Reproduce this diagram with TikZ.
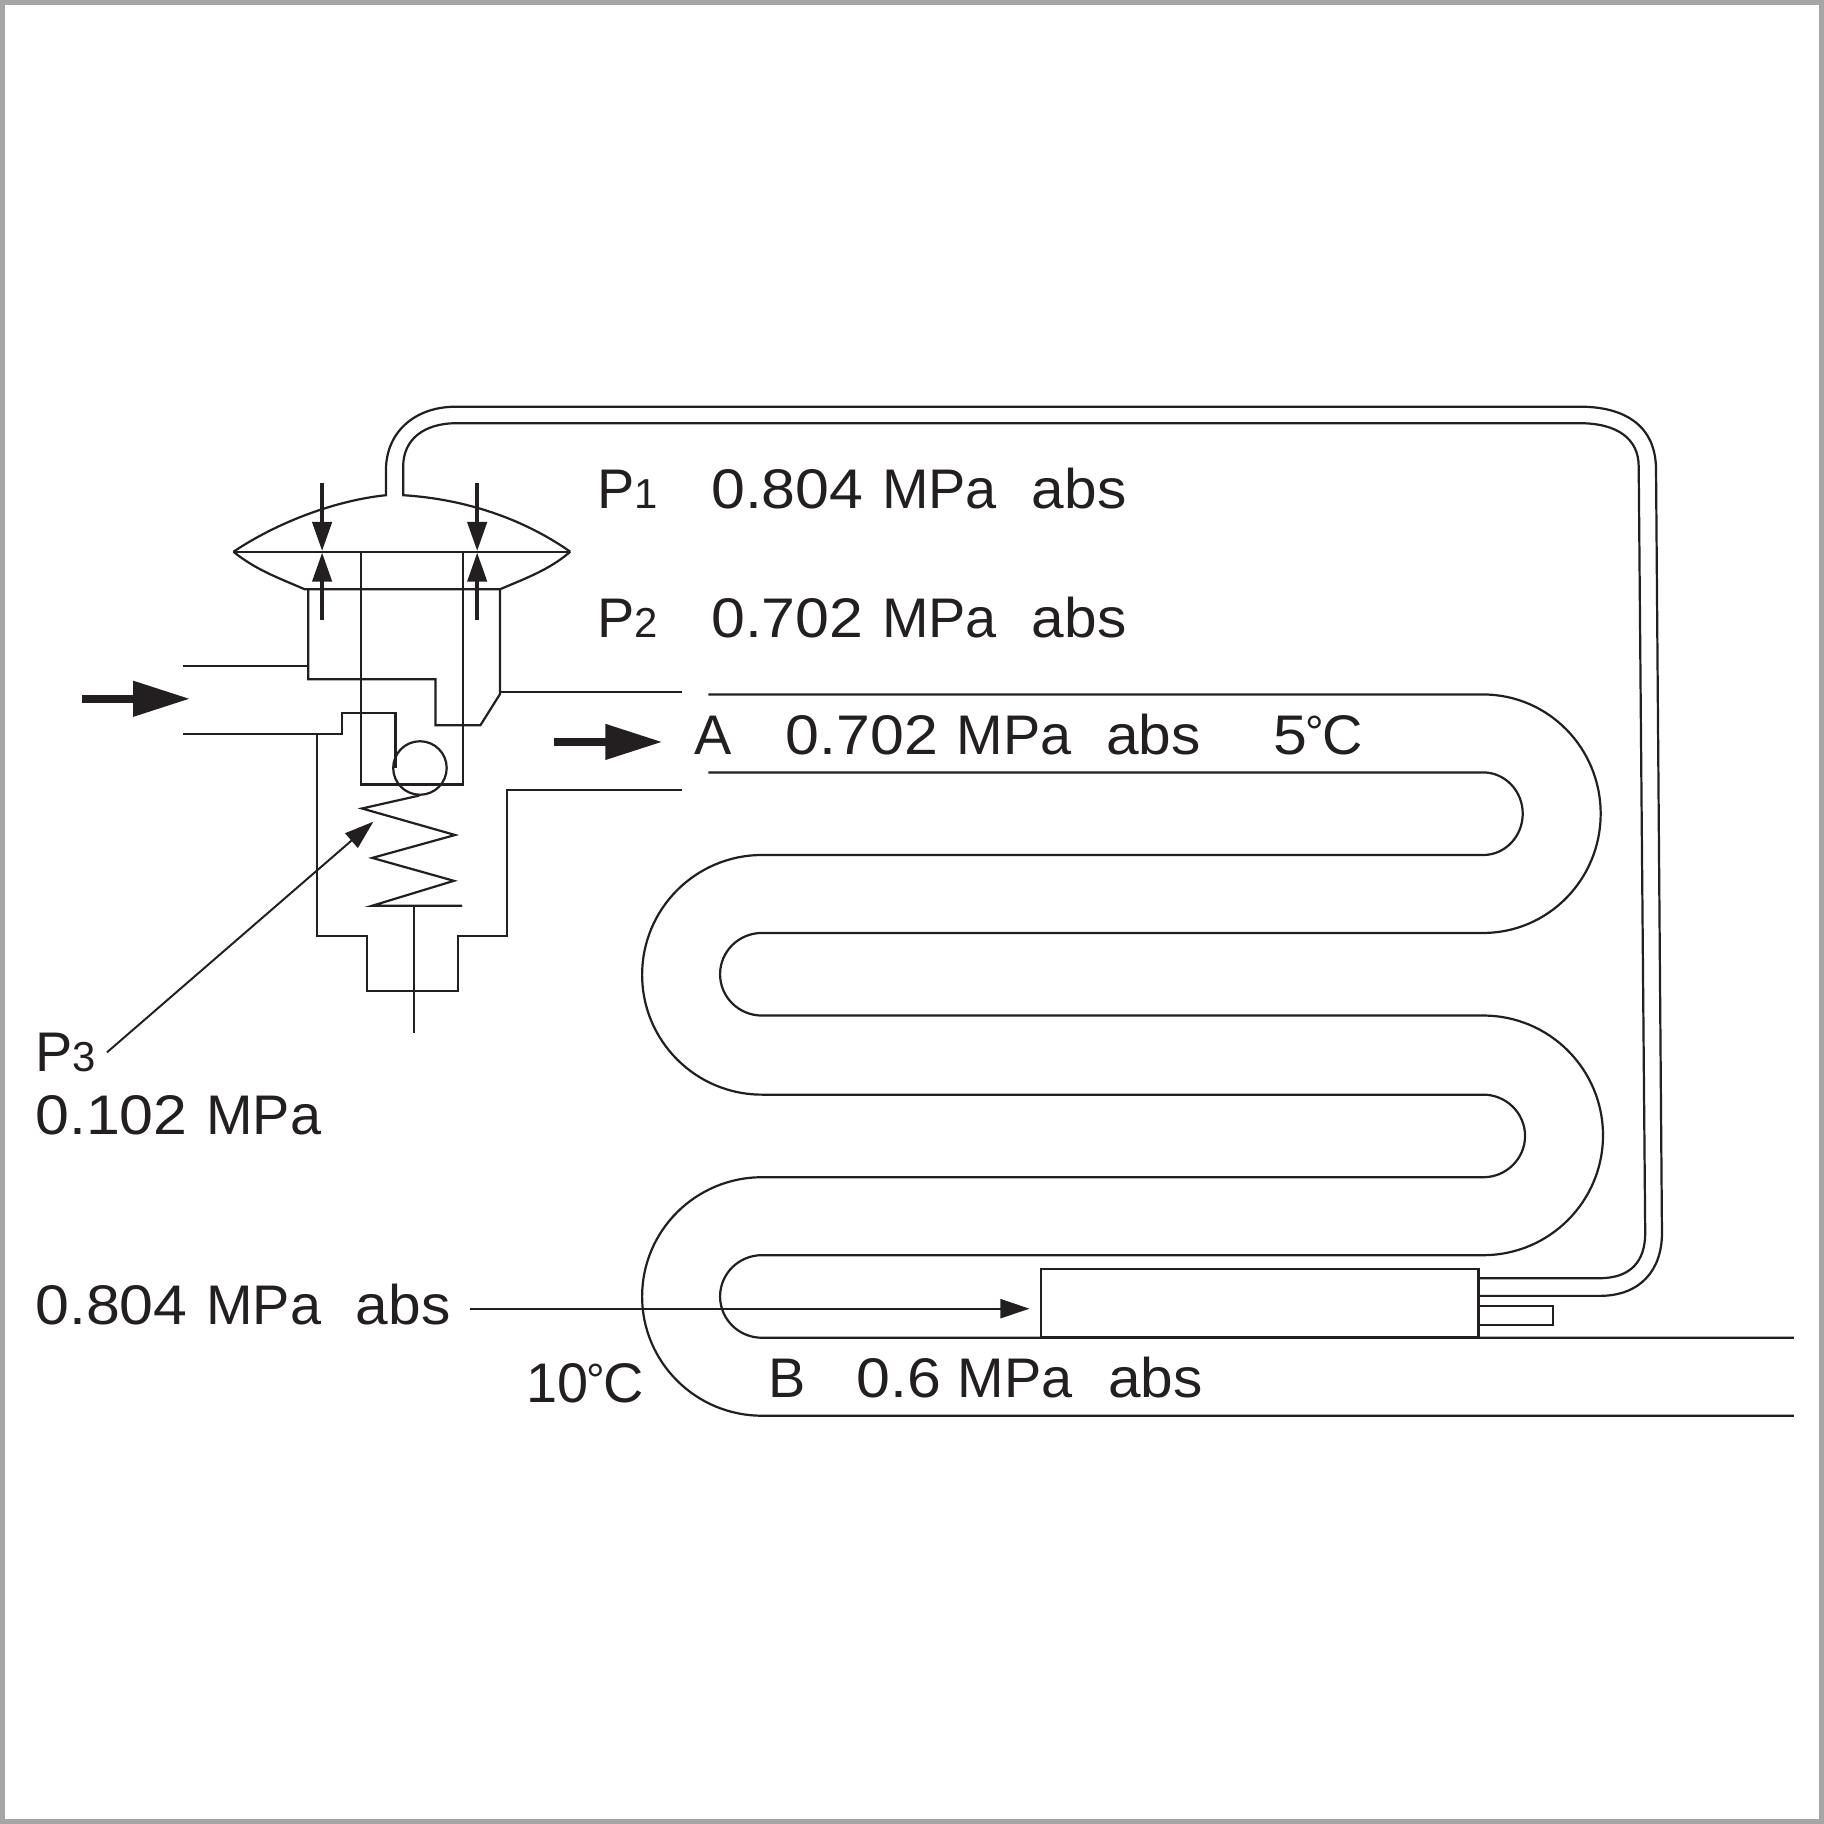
\documentclass[tikz,border=0pt]{standalone}
\usepackage{fontspec}
\setmainfont{Liberation Sans}
\newfontfamily\numfont[FakeStretch=1.09]{Liberation Sans}
\newfontfamily\absfont[FakeStretch=1.05]{Liberation Sans}
\usetikzlibrary{arrows.meta}
\definecolor{ink}{HTML}{231F20}
\definecolor{framegray}{HTML}{A6A6A6}
\newcommand{\Sm}[1]{{\fontsize{18}{18}\selectfont #1}}
\newcommand{\Nm}[1]{{\numfont #1}}
\newcommand{\Ab}{{\absfont abs}}
\newcommand{\Dg}{\kern-0.75pt{\fontsize{20}{20}\selectfont\raisebox{2.6pt}{°}}\kern-0.75pt}
\tikzset{
  pipe/.style={draw=ink,line width=0.95pt,line join=miter},
  thin arrow/.style={draw=ink,fill=ink,line width=0.85pt,-{Triangle[length=12.5pt,width=8.2pt]}},
  mid arrow/.style={draw=ink,fill=ink,line width=1.75pt,-{Triangle[length=12.5pt,width=8.2pt]}},
  big arrow/.style={draw=ink,fill=ink,line width=3.5pt,-{Triangle[length=24.5pt,width=14.5pt]}},
  lab/.style={anchor=base west,inner sep=0pt,text=ink,font=\fontsize{24}{24}\selectfont},
}
\begin{document}
\begin{tikzpicture}[x=0.5pt,y=-0.5pt]
\useasboundingbox (0,0) rectangle (1568,1568);
\draw[framegray,line width=2pt] (2,2) rectangle (1566,1566);

% labels
\node[lab] (p1) at (513,437) {P\Sm{1}};
\node[lab] (p1v) at (611,437) {\Nm{0.804}\hspace{8pt}MPa\hspace{15pt}\Ab};
\node[lab] (p2) at (513,547.8) {P\Sm{2}};
\node[lab] (p2v) at (611,547.8) {\Nm{0.702}\hspace{8pt}MPa\hspace{15pt}\Ab};
\node[lab] (a) at (597,648.4) {A};
\node[lab] (av) at (675,648.4) {\Nm{0.702}\hspace{8pt}MPa\hspace{15pt}\Ab};
\node[lab] (at) at (1094,648.4) {\Nm{5}\Dg C};
\node[lab] (p3) at (30,921.2) {P\Sm{3}};
\node[lab] (p3v) at (30,975) {\Nm{0.102}\hspace{8pt}MPa};
\node[lab] (q) at (30,1138.4) {\Nm{0.804}\hspace{8pt}MPa\hspace{15pt}\Ab};
\node[lab] (ten) at (452,1205.5) {10\Dg C};
\node[lab] (b) at (660,1201) {B};
\node[lab] (bv) at (736,1201) {\Nm{0.6}\hspace{7pt}MPa\hspace{15.5pt}\Ab};

% capillary tube
\path[pipe] (200.7,474.3) .. controls (240,448) and (290,430) .. (331.8,425.7)
  -- (331.8,404) .. controls (331.8,372) and (356,349.6) .. (392,349.6)
  -- (1358,349.6) .. controls (1397,349.6) and (1423.6,366) .. (1423.6,404)
  -- (1428.7,1060) .. controls (1428.7,1092) and (1410,1114) .. (1375,1114) -- (1271,1114);
\path[pipe] (490.2,474.3) .. controls (450,446) and (400,429) .. (346.6,425.7)
  -- (346.6,401) .. controls (346.6,378) and (364,363.8) .. (392.6,363.8)
  -- (1358,363.8) .. controls (1390,363.8) and (1408.7,377) .. (1408.7,401)
  -- (1414.3,1060) .. controls (1414.3,1084) and (1402,1098.8) .. (1375,1098.8) -- (1271,1098.8);

% diaphragm and lower dome
\path[pipe] (200.7,474.3) -- (490.2,474.3);
\path[pipe] (200.7,474.3) .. controls (220,490) and (240,497) .. (262,506.6) -- (429.8,506.6)
  .. controls (452,497) and (472,490) .. (490.2,474.3);

% valve body
\path[pipe] (156.9,572.4) -- (265,572.4);
\path[pipe] (265,506.6) -- (265,583.9) -- (374.4,583.9) -- (374.4,623.4) -- (413,623.4) -- (429.8,596.7) -- (429.8,506.6);
\path[pipe] (429.8,594.7) -- (586.7,594.7);
\path[pipe] (310.2,474.3) -- (310.2,674.3) -- (397.9,674.3) -- (397.9,474.3);
\path[pipe] (156.9,630.9) -- (293.7,630.9) -- (293.7,613.2) -- (340,613.2) -- (340,660);
\path[pipe] (272.7,630.9) -- (272.7,804.9) -- (315.5,804.9) -- (315.5,852) -- (393.7,852) -- (393.7,804.9) -- (435.8,804.9) -- (435.8,679) -- (586.7,679);

% ball, spring, stem
\path[pipe] (361,660.2) circle[radius=11.5pt];
\path[pipe] (360.4,683.9) -- (311.2,695) -- (391.2,717.8) -- (320,737.5) -- (390.2,757.2) -- (320,778.6) -- (397.2,778.6);
\path[pipe] (355.8,778.6) -- (355.8,887.8);

% evaporator coil
\path[pipe] (609,597) -- (1275,597) arc[start angle=90,end angle=-90,x radius=50.5pt,y radius=51.25pt]
  -- (655,802) arc[start angle=90,end angle=270,x radius=18pt,y radius=17.75pt]
  -- (1275,873) arc[start angle=90,end angle=-90,x radius=51.5pt,y radius=51.5pt]
  -- (655,1079) arc[start angle=90,end angle=270,x radius=18pt,y radius=17.75pt]
  -- (1542,1150);
\path[pipe] (609,664) -- (1275,664) arc[start angle=90,end angle=-90,x radius=17pt,y radius=17.75pt]
  -- (655,735) arc[start angle=90,end angle=270,x radius=51.5pt,y radius=51.5pt]
  -- (1275,941) arc[start angle=90,end angle=-90,x radius=18pt,y radius=17.75pt]
  -- (655,1012) arc[start angle=90,end angle=270,x radius=51.5pt,y radius=51.25pt]
  -- (1542,1217);

% sensing bulb
\path[pipe] (895,1090.8) rectangle (1271,1149.6);
\path[pipe] (1271,1122.6) -- (1334.8,1122.6) -- (1334.8,1139) -- (1271,1139);

% arrows
\coordinate (a1s) at (276.9,415);   \coordinate (a1e) at (276.9,473.7);
\coordinate (a2s) at (276.9,532.9); \coordinate (a2e) at (276.9,475);
\coordinate (a3s) at (410.2,415);   \coordinate (a3e) at (410.2,473.7);
\coordinate (a4s) at (410.2,532.9); \coordinate (a4e) at (410.2,475);
\draw[mid arrow] (a1s) -- (a1e);
\draw[mid arrow] (a2s) -- (a2e);
\draw[mid arrow] (a3s) -- (a3e);
\draw[mid arrow] (a4s) -- (a4e);
\coordinate (b1s) at (70.5,600.7);  \coordinate (b1e) at (163.5,600.7);
\coordinate (b2s) at (476.2,637.8); \coordinate (b2e) at (569.5,637.8);
\draw[big arrow] (b1s) -- (b1e);
\draw[big arrow] (b2s) -- (b2e);
\coordinate (c1s) at (92,904.6);    \coordinate (c1e) at (321,706.3);
\coordinate (c2s) at (404.4,1125);  \coordinate (c2e) at (885,1125);
\draw[thin arrow] (c1s) -- (c1e);
\draw[thin arrow] (c2s) -- (c2e);
\end{tikzpicture}
\end{document}
